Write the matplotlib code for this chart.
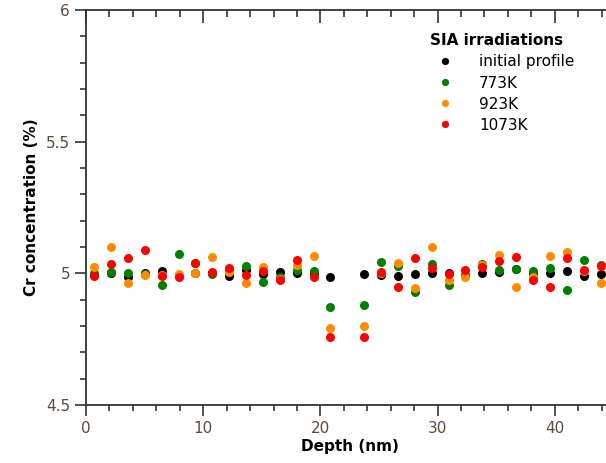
import matplotlib
matplotlib.use("Agg")
import matplotlib.pyplot as plt
from matplotlib.ticker import MultipleLocator, FormatStrFormatter
import numpy as np

depth = [0.7, 2.14, 3.58, 5.02, 6.46, 7.9, 9.34, 10.78, 12.22, 13.66,
         15.1, 16.54, 17.98, 19.42, 20.86, 23.74, 25.18, 26.62, 28.06, 29.5,
         30.94, 32.38, 33.82, 35.26, 36.7, 38.14, 39.58, 41.02, 42.46, 43.9]

initial = [4.995, 5.0, 4.987, 5.0, 5.008, 4.99, 5.0, 5.0, 4.989, 5.011,
           4.997, 5.004, 5.0, 5.0, 4.986, 4.996, 4.995, 4.99, 4.996, 5.0,
           5.0, 4.995, 5.0, 5.006, 5.015, 5.0, 5.003, 5.01, 4.989, 4.997]
k773 = [5.0, 5.005, 5.0, 4.996, 4.957, 5.075, 5.04, 4.997, 5.01, 5.026,
        4.967, 4.985, 5.014, 5.01, 4.873, 4.878, 5.043, 5.028, 4.930, 5.037,
        4.957, 4.993, 5.037, 5.014, 5.018, 5.01, 5.02, 4.938, 5.052, 5.03]
k923 = [5.024, 5.10, 4.962, 4.992, 4.995, 4.999, 5.0, 5.062, 5.005, 4.962,
        5.023, 4.98, 5.03, 5.067, 4.793, 4.801, 5.0, 5.038, 4.944, 5.10,
        4.973, 4.986, 5.033, 5.069, 4.949, 4.985, 5.067, 5.081, 5.007, 4.962]
k1073 = [4.99, 5.034, 5.058, 5.09, 4.991, 4.986, 5.041, 5.004, 5.02, 4.992,
         5.01, 4.976, 5.05, 4.987, 4.758, 4.758, 5.005, 4.948, 5.058, 5.019,
         4.996, 5.014, 5.024, 5.045, 5.062, 4.973, 4.95, 5.058, 5.011, 5.029]

series = [("initial profile", initial, "black"),
          ("773K", k773, "#008000"),
          ("923K", k923, "#ff8c00"),
          ("1073K", k1073, "#ff0000")]

plt.rcParams['font.family'] = ['DejaVu Sans']
fig = plt.figure(figsize=(6.06, 4.63), dpi=100)
ax = fig.add_axes([86/606, 58/463, 45*11.72/606, 395/463])

for name, vals, col in series:
    ax.plot(depth, vals, 'o', color=col, markersize=6.5, markeredgewidth=0,
            label=name, clip_on=False)

ax.set_xlim(0, 45)
ax.set_ylim(4.5, 6)
ax.xaxis.set_major_locator(MultipleLocator(10))
ax.xaxis.set_minor_locator(MultipleLocator(2))
ax.yaxis.set_major_locator(MultipleLocator(0.5))
ax.yaxis.set_minor_locator(MultipleLocator(0.1))
ax.yaxis.set_major_formatter(FormatStrFormatter('%g'))

tick_col = '#5c4a3c'
ax.tick_params(axis='both', which='major', direction='out', length=8, width=1.2,
               labelsize=11, labelcolor=tick_col, color='#333333')
ax.tick_params(axis='both', which='minor', direction='out', length=4.5, width=1.2,
               color='#333333')
ax.spines['right'].set_visible(False)
for s in ['left', 'bottom', 'top']:
    ax.spines[s].set_linewidth(1.3)
    ax.spines[s].set_color('#333333')

sec = ax.secondary_xaxis('top')
sec.xaxis.set_major_locator(MultipleLocator(10))
sec.xaxis.set_minor_locator(MultipleLocator(2))
sec.tick_params(which='major', direction='in', length=9, width=1.2, labeltop=False, color='#333333')
sec.tick_params(which='minor', direction='in', length=5, width=1.2, color='#333333')
sec.spines['top'].set_visible(False)

ax.set_xlabel('Depth (nm)', fontsize=11, fontweight='bold', labelpad=2)
ax.set_ylabel('Cr concentration (%)', fontsize=11, fontweight='bold', labelpad=5)

leg = ax.legend(title='SIA irradiations', loc='upper left', bbox_to_anchor=(0.632, 0.968),
                frameon=False, fontsize=11, handletextpad=1.2, labelspacing=0.4,
                markerscale=0.8, handlelength=2.0, borderpad=0.2)
leg.get_title().set_fontweight('bold')
leg.get_title().set_fontsize(11)
leg._legend_box.align = 'left'

fig.savefig('out.png', dpi=100)
